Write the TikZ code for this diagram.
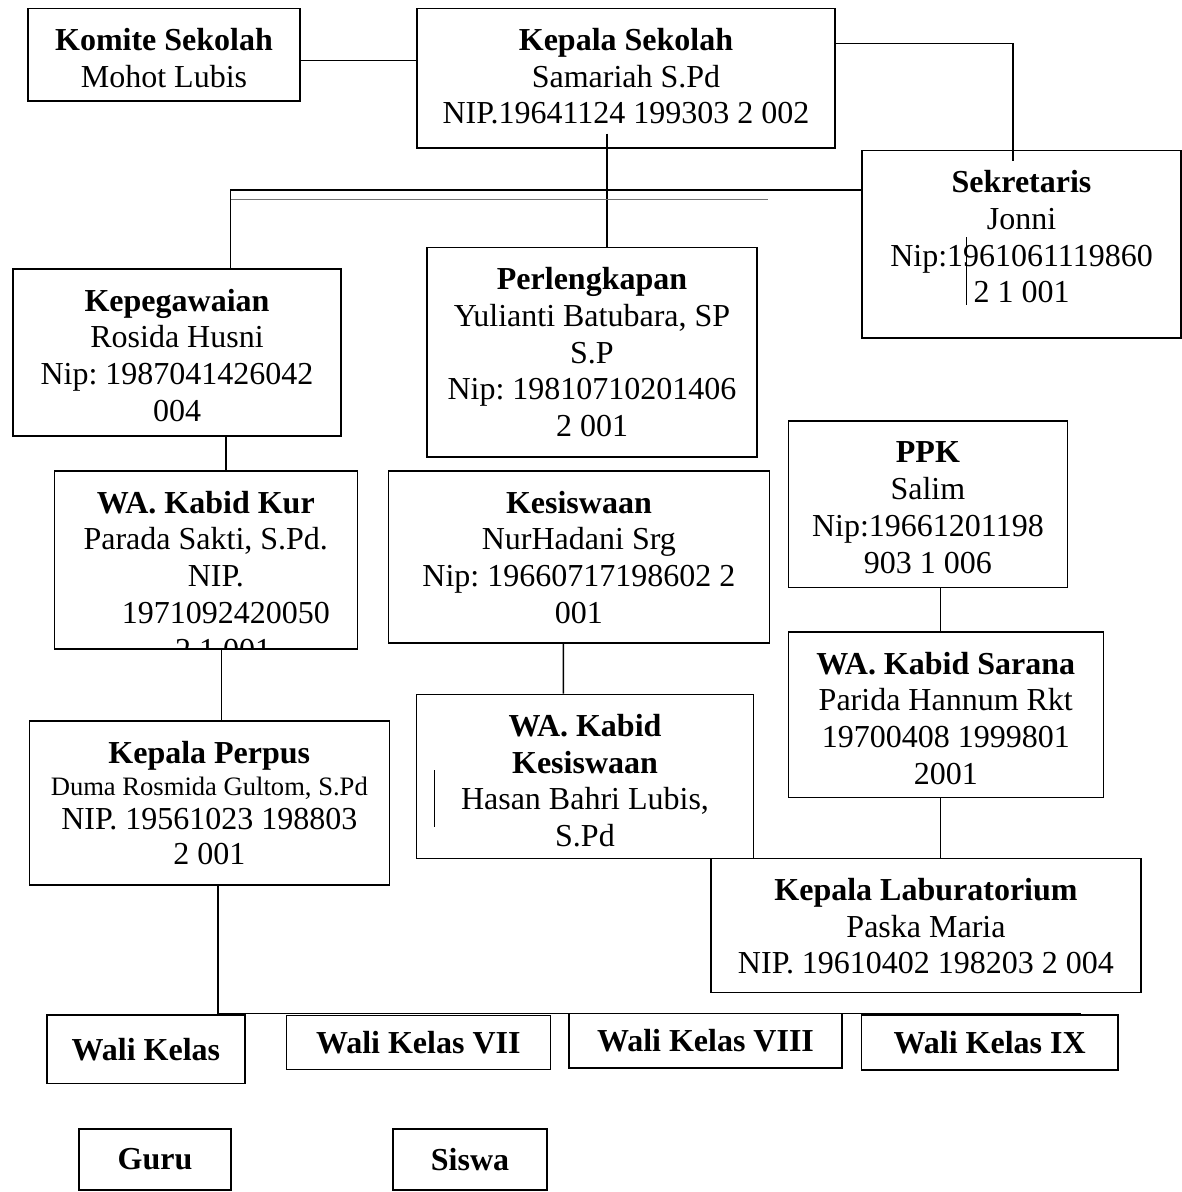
\documentclass[tikz,border=0pt]{standalone}
\usepackage{fontspec}
\setmainfont{Liberation Serif}
\usepackage{tikz}
\usetikzlibrary{positioning}
\frenchspacing
\tikzstyle{block} = [rectangle, draw, line width=1.5pt, inner sep=0pt]
\tikzstyle{wali} = [block, font=\fontsize{32}{36.8}\selectfont\bfseries]
\tikzstyle{line} = [draw, line width=1.4pt]
\tikzstyle{cursor} = [draw, line width=1.2pt]
\newcommand{\orgtext}[3]{\parbox[c][#2][t]{#1}{\centering\frenchspacing\rule{0pt}{42pt}#3}}

\begin{document}
\begin{tikzpicture}[x=1pt,y=-1pt,every node/.style={font=\fontsize{32}{36.8}\selectfont}]
    \useasboundingbox (0,0) rectangle (1182,1192);
    % Place nodes
    \node[block] (komite) at (164,54.6) {\orgtext{272pt}{92.7pt}{\textbf{Komite Sekolah}\\Mohot Lubis}};
    \node[block] (kepala) at (626,78.2) {\orgtext{418pt}{139.7pt}{\textbf{Kepala Sekolah}\\Samariah S.Pd\\NIP.19641124 199303 2 002}};
    \node[block] (sekretaris) at (1021.5,244.2) {\orgtext{319pt}{187.5pt}{\textbf{Sekretaris}\\Jonni\\Nip:1961061119860\\2 1 001}};
    \node[block] (kepegawaian) at (177,352.5) {\orgtext{328pt}{167pt}{\textbf{Kepegawaian}\\Rosida Husni\\Nip: 1987041426042\\004}};
    \node[block] (perlengkapan) at (592,352.2) {\orgtext{330pt}{209.5pt}{\textbf{Perlengkapan}\\Yulianti Batubara, SP\\S.P\\Nip: 19810710201406\\2 001}};
    \node[block] (wakur) at (205.8,560) {\orgtext{303pt}{178pt}{\textbf{WA. Kabid Kur}\\Parada Sakti, S.Pd.\\\hspace*{20pt}NIP.\\\hspace*{40pt}1971092420050}};
    \node[block] (kesiswaan) at (578.9,556.9) {\orgtext{380.8pt}{171.7pt}{\textbf{Kesiswaan}\\NurHadani Srg\\Nip: 19660717198602 2\\001}};
    \node[block] (ppk) at (927.9,504.2) {\orgtext{279.2pt}{166.5pt}{\textbf{PPK}\\Salim\\Nip:19661201198\\903 1 006}};
    \node[block] (sarana) at (945.8,714.8) {\orgtext{315pt}{165.5pt}{\textbf{WA. Kabid Sarana}\\Parida Hannum Rkt\\19700408 1999801\\2001}};
    \node[block] (wakesiswaan) at (585,776.3) {\orgtext{336.6pt}{164pt}{\textbf{WA. Kabid}\\\textbf{Kesiswaan}\\Hasan Bahri Lubis,\\S.Pd}};
    \node[block] (perpus) at (209.3,803) {\orgtext{360pt}{164pt}{\textbf{Kepala Perpus}\\[-4pt]{\fontsize{26.6}{30}\selectfont Duma Rosmida Gultom, S.Pd}\\[-3pt]NIP. 19561023 198803\\[-1.8pt]2 001}};
    \node[block] (lab) at (926,925.4) {\orgtext{430pt}{134.2pt}{\textbf{Kepala Laburatorium}\\Paska Maria\\NIP. 19610402 198203 2 004}};

    \node[wali, minimum width=198.3pt, minimum height=68.5pt] (walikelas) at (145.9,1049.3) {Wali Kelas};
    \node[wali, minimum width=264pt, minimum height=53.6pt] (wali7) at (418.3,1042.5) {Wali Kelas VII};
    \node[wali, minimum width=273pt, minimum height=54.7pt] (wali8) at (705.5,1040.7) {Wali Kelas VIII};
    \node[wali, minimum width=256.6pt, minimum height=55pt] (wali9) at (989.7,1042.5) {Wali Kelas IX};
    \node[wali, minimum width=152pt, minimum height=61pt] (guru) at (155,1159.5) {Guru};
    \node[wali, minimum width=154pt, minimum height=61pt, right of=guru, node distance=315pt] (siswa) {Siswa};

    % last line of WA. Kabid Kur runs out of its box
    \begin{scope}
        \clip (wakur.south west) rectangle (wakur.north east);
        \node[anchor=base] (wakurnip) at (223,660.2) {2 1 001};
    \end{scope}

    % Draw edges
    \coordinate (c1) at ([yshift=-6.1pt]komite.east);
    \path [line] (c1) -- (c1 -| kepala.west);
    \path [line] ([yshift=34.9pt]kepala.east) -| ([xshift=-8.5pt,yshift=-11.5pt]sekretaris.north);
    \path [line] ([xshift=-19pt,yshift=15.3pt]kepala.south) -- ([xshift=15pt]perlengkapan.north);

    \coordinate (bar) at (230.5,190);
    \coordinate (barend) at (768,199.3);
    \path [line] (kepegawaian.north -| bar) -- (bar) -- (bar -| sekretaris.west);
    \path [draw, black!55, line width=1.2pt] (bar |- barend) -- (barend);

    \path [line] ([xshift=49pt]kepegawaian.south) -- ([xshift=20.2pt]wakur.north);
    \path [line] ([xshift=15.9pt]wakur.south) -- ([xshift=12.4pt]perpus.north);
    \coordinate (rowend) at (1081,1013.3);
    \path [line] ([xshift=8.7pt]perpus.south) |- (rowend);

    \path [line] ([xshift=-15.6pt]kesiswaan.south) -- ([xshift=-21.7pt]wakesiswaan.north);
    \path [line] ([xshift=12.8pt]ppk.south) -- ([xshift=-5.1pt]sarana.north);
    \path [line] ([xshift=-5.1pt]sarana.south) -- ([xshift=14.7pt]lab.north);

    % text cursors left in the boxes
    \path [cursor] ([xshift=-54.9pt,yshift=7pt]sekretaris.center) -- ++(0,68);
    \path [cursor] ([xshift=-150.7pt,yshift=6.3pt]wakesiswaan.center) -- ++(0,57);
\end{tikzpicture}
\end{document}
